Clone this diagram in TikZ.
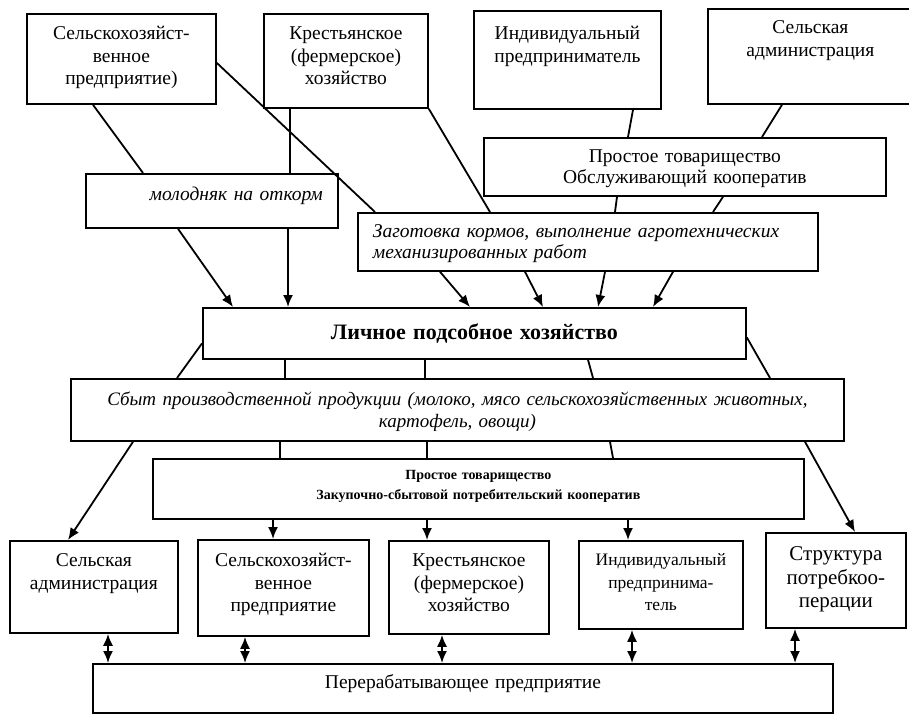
\documentclass[tikz,border=0pt]{standalone}
\usepackage{fontspec}
\setmainfont{Liberation Serif}
\usepackage{tikz}
\usetikzlibrary{
	arrows.meta,
	positioning,
	calc
}
\newcommand{\cstfont}{\fontsize{19.5}{22.5}\selectfont}
\tikzset{
  % box
	cstbox/.style     ={draw, line width=1.8pt, inner xsep=8pt, inner ysep=0pt, anchor=north west, align=center, font=\cstfont},
	cstsize/.style n args={3}{text width=#1, text height=#2, text depth=#3},
	cstboxl/.style    ={cstbox, inner xsep=15pt, align=left, font=\itshape\fontsize{19.5}{21}\selectfont},
	cstboxr/.style    ={cstbox, inner xsep=15pt, align=right, font=\itshape\fontsize{19.5}{21}\selectfont},
  % line
	cstline/.style    ={line width=1.8pt},
	cstra/.style      ={-{Latex[length=12pt,width=10pt]}, line width=1.8pt},
	cstlra/.style     ={{Latex[length=12pt,width=10pt]}-{Latex[length=12pt,width=10pt]}, line width=1.8pt}
}

\begin{document}
\begin{tikzpicture}[x=1pt,y=-1pt]
	\useasboundingbox (0,0) rectangle (909,714);
	% top row
	\node[cstbox,cstsize={173pt}{26pt}{64pt}] (farm1) at (26,13) {Сельскохозяйст-\\венное\\предприятие)};
	\node[cstbox,cstsize={148pt}{26pt}{68pt}] (peas1) at (263,13) {Крестьянское\\(фермерское)\\хозяйство};
	\node[cstbox,cstsize={171pt}{29pt}{69pt}] (indiv1) at (473,10) {Индивидуальный\\предприниматель};
	\node[cstbox,cstsize={189pt}{25pt}{70pt}] (adm1) at (707,8) {Сельская\\администрация};
	% middle
	\node[cstbox,cstsize={386pt}{25pt}{33pt},font=\fontsize{19.5}{21}\selectfont] (coop1) at (483,137) {Простое товарищество\\Обслуживающий кооператив};
	\node[cstboxr,cstsize={222pt}{27pt}{27pt}] (young) at (85,173) {молодняк на откорм};
	\node[cstboxl,cstsize={430pt}{25pt}{33pt}] (feed) at (357,212) {Заготовка кормов, выполнение агротехнических\\механизированных работ};
	\node[cstbox,cstsize={527pt}{32pt}{19pt},font=\bfseries\fontsize{22}{26}\selectfont] (lph) at (202,307) {Личное подсобное хозяйство};
	\node[cstbox,cstsize={757pt}{27pt}{35pt},font=\itshape\fontsize{19}{22}\selectfont] (sale) at (70,378) {Сбыт производственной продукции (молоко, мясо сельскохозяйственных животных,\\картофель, овощи)};
	\node[cstbox,cstsize={635pt}{21pt}{39pt},font=\bfseries\fontsize{14}{20}\selectfont] (coop2) at (152,458) {Простое товарищество\\Закупочно-сбытовой потребительский кооператив};
	% bottom row
	\node[cstbox,cstsize={152pt}{26pt}{66pt}] (badm) at (9,540) {Сельская\\администрация};
	\node[cstbox,cstsize={155pt}{27pt}{69pt}] (bfarm) at (197,539) {Сельскохозяйст-\\венное\\предприятие};
	\node[cstbox,cstsize={144pt}{26pt}{67pt}] (bpeas) at (388,540) {Крестьянское\\(фермерское)\\хозяйство};
	\node[cstbox,cstsize={148pt}{25pt}{63pt},font=\fontsize{17.5}{22.5}\selectfont] (bindiv) at (578,540) {Индивидуальный\\предпринима-\\тель};
	\node[cstbox,cstsize={124pt}{28pt}{67pt},font=\fontsize{21}{23.5}\selectfont] (bstruct) at (765,532) {Структура\\потребкоо-\\перации};
	\node[cstbox,cstsize={724pt}{25pt}{24pt}] (proc) at (92,663) {Перерабатывающее предприятие};
	% top -> middle
	\draw[cstline] (93,0 |- farm1.south) -- (143,0 |- young.north);
	\draw[cstline] (290,0 |- peas1.south) -- (290,0 |- young.north);
	\draw[cstline] ([yshift=-4pt]farm1.east) -- (375,0 |- feed.north);
	\draw[cstline] (peas1.south east) -- (490,0 |- feed.north);
	\draw[cstline] (633,0 |- indiv1.south) -- (628,0 |- coop1.north);
	\draw[cstline] (782,0 |- adm1.south) -- (762,0 |- coop1.north);
	\draw[cstline] (617,0 |- coop1.south) -- (615,0 |- feed.north);
	\draw[cstline] (723,0 |- coop1.south) -- (713,0 |- feed.north);
	% -> lph
	\draw[cstra] (178,0 |- young.south) -- (233,0 |- lph.north);
	\draw[cstra] (288,0 |- young.south) -- (288,0 |- lph.north);
	\foreach \a/\b in {440/470, 525/543, 605/598, 673/653}
		\draw[cstra] (\a,0 |- feed.south) -- (\b,0 |- lph.north);
	% lph -> sale
	\foreach \a/\b in {285/285, 425/425, 588/593}
		\draw[cstline] (\a,0 |- lph.south) -- (\b,0 |- sale.north);
	\draw[cstline] ([yshift=-10pt]lph.west) -- (177,0 |- sale.north);
	\draw[cstline] ([yshift=-4pt]lph.east) -- (770,0 |- sale.north);
	\draw[cstra] (133,0 |- sale.south) -- (68,0 |- badm.north);
	\draw[cstra] (805,0 |- sale.south) -- (855,0 |- bstruct.north);
	% sale -> coop2 -> bottom
	\foreach \a/\b in {280/280, 427/427, 610/613}
		\draw[cstline] (\a,0 |- sale.south) -- (\b,0 |- coop2.north);
	\foreach \n/\x in {bfarm/273, bpeas/427, bindiv/628}
		\draw[cstra] (\x,0 |- coop2.south) -- (\x,0 |- \n.north);
	% bottom <-> proc
	\foreach \n/\x in {badm/108, bfarm/245, bpeas/442, bindiv/632, bstruct/795}
		\draw[cstlra] (\x,0 |- \n.south) -- (\x,0 |- proc.north);
\end{tikzpicture}
\end{document}
